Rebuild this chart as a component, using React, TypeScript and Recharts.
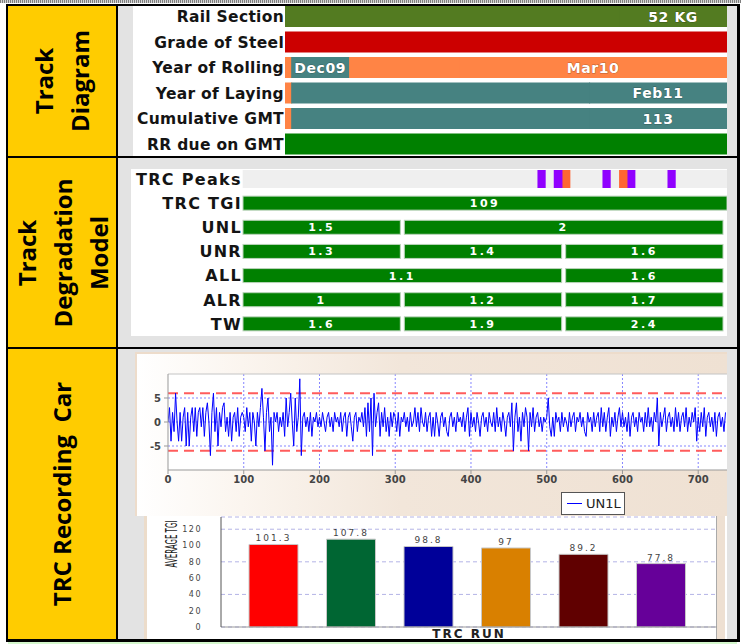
import React from 'react';
import {
  BarChart, Bar, XAxis, YAxis, Cell, LabelList, LineChart, Line,
  CartesianGrid, ReferenceLine, Label,
} from 'recharts';

// Track Diagram rows (lengths along the section, 0-100)
const diagramCategories = ['Rail Section', 'Grade of Steel', 'Year of Rolling', 'Year of Laying', 'Cumulative GMT', 'RR due on GMT'];
const diagramLengths = [[75.6, 24.4], [100], [1.4, 13.1, 24.9, 60.6], [1.4, 67.4, 31.2], [1.4, 67.4, 31.2], [100]];
const diagramLabels = [['', '52 KG'], [''], ['', 'Dec09', '', 'Mar10'], ['', '', 'Feb11'], ['', '', '113'], ['']];

// Track Degradation Model (three blocks, 0-3)
const degradationCategories = ['TRC TGI', 'UNL', 'UNR', 'ALL', 'ALR', 'TW'];
const degradationLengths = [[3], [1, 2], [1, 1, 1], [2, 1], [1, 1, 1], [1, 1, 1]];
const degradationLabels = [['109'], ['1.5', '2'], ['1.3', '1.4', '1.6'], ['1.1', '1.6'], ['1', '1.2', '1.7'], ['1.6', '1.9', '2.4']];
const peakStart = [1.827, 1.928, 1.982, 2.23, 2.333, 2.385, 2.633];
const peakEnd = [1.878, 1.982, 2.031, 2.281, 2.385, 2.434, 2.684];
const peakLevel = [2, 2, 1, 2, 1, 2, 2];

// TRC recording, UN1L, one value every 2 units
const un1l000 = [0, 3, -4, 2, -2, 6, 0, -4, 2, -4, 1, 3, -5, 2, -5, 1, 3, -2, 3, -3, 2, 3, -1, 3, -3, 2, 4, 0, -7, 2, 6, -2, 3, -5, 2, -1, 3, 4, -2, 1, -3, 2, -4, 1, 2, -2, 3, -3, 1, 2];
const un1l100 = [1, -2, 3, -1, 2, -4, 2, 0, -5, 2, -1, 3, 7, 1, -6, 2, 5, -2, 1, -9, 2, 0, 2, -2, 1, -1, 2, -3, 5, -1, 2, 6, 0, -5, 5, -2, 1, 9, -7, 1, 2, -1, 1, -2, 2, -3, 1, 0, 2, -1];
const un1l200 = [1, -1, 2, 0, -2, 1, 2, -1, 1, -2, 2, 0, 1, -1, 2, -2, 1, 2, -3, 1, 2, -1, -4, 1, 2, -2, 1, 0, 2, -1, 3, -3, 4, -2, 5, -7, 6, -1, 2, 4, -3, 2, -1, 3, -2, 1, -3, 2, -1, 2];
const un1l300 = [1, -2, 2, -3, 1, 0, 2, -1, 1, -2, 2, -1, 0, 3, -1, 2, -2, 3, 0, -1, 2, -2, 1, 2, -3, 1, -3, 2, 0, -3, 1, 2, -1, 1, -2, -3, 1, 2, -1, 1, -2, 2, 0, 1, -1, 2, -2, 1, 3, -3];
const un1l400 = [2, -1, 1, -2, 2, 0, -3, 1, 2, -1, 1, -2, 2, 0, -1, 2, -2, 3, -1, 1, -2, 2, 0, -3, 1, 2, -1, 4, -6, 1, 4, -2, 1, -4, 2, -1, 3, 1, -6, 2, -1, 3, -2, 1, 2, -1, 1, -2, 1, 0];
const un1l500 = [1, 5, -1, -3, 1, -3, 2, 0, 1, -2, 2, -1, 1, 0, -2, 2, -1, 1, 2, -2, 1, 0, 2, -1, 1, -2, -3, 2, 0, 1, -2, 2, -1, 1, 2, -2, 3, -1, 2, -2, 1, 3, -3, 1, -1, 2, -2, 1, 3, -1];
const un1l600 = [2, -1, 1, -2, 2, -3, 1, 2, -1, 1, -2, 2, 0, 1, -2, 2, -1, 3, -1, 1, -2, 2, 0, 5, -5, 2, -1, 1, 3, -2, 1, 2, -1, 1, -2, 3, -1, 2, -2, 1, 2, -1, 3, -2, 1, -1, 2, 0, 3, -4];
const un1l700 = [1, -2, 2, -1, 3, -3, 1, 2, -1, 1, -2, 2, -3, 1, 2, -1, 1, -2, 2];
const lineTicks = [0, 100, 200, 300, 400, 500, 600, 700];
const lineGridX = [100, 200, 300, 400, 500, 600, 700];
const lineTicksY = [-5, 0, 5];
const alarmLimit = 6;

// Average TGI per TRC run
const trcRuns = ['Run 1', 'Run 2', 'Run 3', 'Run 4', 'Run 5', 'Run 6'];
const averageTgi = [101.3, 107.8, 98.8, 97, 89.2, 77.8];
const tgiTicks = [0, 20, 40, 60, 80, 100, 120];

// styles
const DIAGRAM_COLORS = [
  ['#537b21', '#537b21'], ['#cc0000'], ['#ff8445', '#468281', '#ff8445', '#ff8445'],
  ['#ff8445', '#468281', '#468281'], ['#ff8445', '#468281', '#468281'], ['#008000'],
];
const PEAK_COLORS: Record<number, string> = { 1: '#ff6633', 2: '#9000ff' };
const RUN_COLORS = ['#ff0000', '#006633', '#000099', '#d98000', '#600000', '#660099'];
const YELLOW = '#ffcc00';
const GRAY = '#e3e3e3';

const diagramData = diagramCategories.map((name, r) => {
  const row: any = { name };
  diagramLengths[r].forEach((len, k) => { row['s' + k] = len; row['l' + k] = diagramLabels[r][k]; });
  return row;
});

const peaksRow: any = { name: 'TRC Peaks', count: 0 };
{
  let pos = 0;
  peakStart.forEach((s, i) => { peaksRow['g' + i] = s - pos; peaksRow['p' + i] = peakEnd[i] - s; pos = peakEnd[i]; });
  peaksRow['g' + peakStart.length] = 3 - pos;
}
const degradationData = [peaksRow, ...degradationCategories.map((name, r) => {
  const row: any = { name, count: degradationLengths[r].length };
  degradationLengths[r].forEach((len, k) => { row['s' + k] = len; row['l' + k] = degradationLabels[r][k]; });
  return row;
})];

const un1lData = [...un1l000, ...un1l100, ...un1l200, ...un1l300, ...un1l400, ...un1l500, ...un1l600, ...un1l700]
  .map((v, i) => ({ km: i * 2, v }));

const tgiData = trcRuns.map((run, i) => ({ run, tgi: averageTgi[i] }));

const box = (left: number, top: number, width: number, height: number, extra: React.CSSProperties = {}): React.CSSProperties =>
  ({ position: 'absolute', left, top, width, height, ...extra });

const DiagramTick = (props: any) => (
  <text x={props.x} y={props.y} dy="0.36em" textAnchor="end" fontFamily="DejaVu Sans" fontWeight="bold"
    fontSize={15.5} letterSpacing={0.3} fill="#141414">{props.payload.value}</text>
);

const DegradationTick = (props: any) => {
  const first = props.payload.value === 'TRC Peaks';
  return (
    <text x={first ? 6 : props.x} y={props.y} dy="0.36em" textAnchor={first ? 'start' : 'end'}
      fontFamily="DejaVu Sans" fontWeight="bold" fontSize={16} letterSpacing={1.3} fill="#141414">
      {props.payload.value}
    </text>
  );
};

const rectOf = (props: any) => props.viewBox ?? props;

// segments of one row butt against each other; overlap by a pixel so no seam shows
const DIAGRAM_PLOT_END = 594;
const DiagramShape = (props: any) => {
  const { x, y, width, height, fill } = props;
  if (!(width > 0)) return null;
  const w = x + width < DIAGRAM_PLOT_END - 1 ? width + 1 : width;
  return <rect x={x} y={y} width={w} height={height} fill={fill} />;
};

const DiagramLabel = (props: any) => {
  const { x, y, width, height } = rectOf(props);
  if (!props.value) return null;
  return (
    <text x={x + width / 2} y={y + height / 2} dy="0.36em" textAnchor="middle" fontFamily="DejaVu Sans"
      fontWeight="bold" fontSize={14} letterSpacing={0.6} fill="#fff" stroke="rgba(0,0,0,0.35)" strokeWidth={0.8}
      paintOrder="stroke">{props.value}</text>
  );
};

const SegmentLabel = (props: any) => {
  const { x, y, width, height } = rectOf(props);
  if (!props.value) return null;
  const row = degradationData[props.index];
  const shift = row && row.count > 1 ? -2 : 0;
  return (
    <text x={x + width / 2 + shift} y={y + height / 2} dy="0.36em" textAnchor="middle" fontFamily="DejaVu Sans"
      fontWeight="bold" fontSize={11} letterSpacing={2.5} fill="#fff">{props.value}</text>
  );
};

const SegmentShape = (props: any) => {
  const { x, y, width, height } = props;
  if (!(width > 0)) return null;
  const row = props.payload ?? props;
  const inset = row.count > 1 ? 4 : 0;
  return <rect x={x} y={y} width={width - inset} height={height} fill="#008000" stroke="#b9d3b9" strokeWidth={1} />;
};

const peakShape = (fill: string) => (props: any) => {
  const { x, y, width, height } = props;
  if (!(width > 0)) return null;
  return <rect x={x - 0.3} y={y - 2} width={width + 0.6} height={height + 4} fill={fill} />;
};

const RunValueLabel = (props: any) => {
  const { x, y, width } = rectOf(props);
  return (
    <text x={x + width / 2} y={y - 3} textAnchor="middle" fontFamily="DejaVu Sans" fontSize={9}
      letterSpacing={2} fill="#444">{props.value}</text>
  );
};

const YellowCell = ({ top, height, lines }: { top: number; height: number; lines: string[] }) => (
  <div style={box(8, top, 108, height, { background: YELLOW })}>
    <div style={{
      position: 'absolute', left: 54 - height / 2, top: height / 2 - 54, width: height, height: 108,
      transform: 'rotate(-90deg)', display: 'flex', flexDirection: 'column', justifyContent: 'center',
      alignItems: 'center', fontFamily: 'Open Sans', fontWeight: 700, fontSize: 24, lineHeight: '36px',
      color: '#000', whiteSpace: 'pre',
    }}>
      {lines.map((t) => <div key={t}>{t}</div>)}
    </div>
  </div>
);

export default function App() {
  const lineTick = { fontSize: 10, fontWeight: 'bold', fill: '#444', fontFamily: 'DejaVu Sans' } as any;
  return (
    <div style={box(0, 0, 741, 644, { background: '#fff', overflow: 'hidden' })}>
      <div style={box(0, 0, 741, 3, { background: 'repeating-linear-gradient(90deg, #808080 0 1px, #d4d4d4 1px 2px)' })} />
      <div style={box(118, 6, 619, 633, { background: GRAY })} />

      <YellowCell top={6} height={150} lines={['Track', 'Diagram']} />
      <YellowCell top={158} height={189} lines={['Track', 'Degradation', 'Model']} />
      <YellowCell top={349} height={290} lines={['TRC Recording  Car']} />

      {/* Track diagram */}
      <div style={box(133, 6, 594, 150, { background: '#fff' })} />
      <div style={box(133, 4, 594, 153)}>
        <BarChart layout="vertical" width={594} height={153} data={diagramData}
          margin={{ top: 0, right: 0, bottom: 0, left: 0 }}>
          <XAxis type="number" domain={[0, 100]} hide />
          <YAxis type="category" dataKey="name" width={152} axisLine={false} tickLine={false}
            tickSize={0} tickMargin={1} tick={<DiagramTick />} interval={0} />
          {[0, 1, 2, 3].map((k) => (
            <Bar key={k} dataKey={'s' + k} stackId="d" barSize={21} isAnimationActive={false} shape={<DiagramShape />}>
              {diagramData.map((_, r) => <Cell key={r} fill={DIAGRAM_COLORS[r][k] || 'none'} />)}
              <LabelList dataKey={'l' + k} content={<DiagramLabel />} />
            </Bar>
          ))}
        </BarChart>
      </div>

      {/* Track degradation model */}
      <div style={box(131, 169, 596, 167, { background: '#fff' })} />
      <div style={box(130, 167, 597, 169)}>
        <BarChart layout="vertical" width={597} height={169} data={degradationData}
          margin={{ top: 0, right: 0, bottom: 0, left: 0 }}>
          <XAxis type="number" domain={[0, 3]} hide />
          <YAxis type="category" dataKey="name" width={113} axisLine={false} tickLine={false}
            tickSize={0} tickMargin={1} tick={<DegradationTick />} interval={0} />
          {peakStart.map((_, i) => [
            <Bar key={'g' + i} dataKey={'g' + i} stackId="m" barSize={14} isAnimationActive={false}
              shape={peakShape('#efefef')} />,
            <Bar key={'p' + i} dataKey={'p' + i} stackId="m" barSize={14} isAnimationActive={false}
              shape={peakShape(PEAK_COLORS[peakLevel[i]])} />,
          ])}
          <Bar dataKey={'g' + peakStart.length} stackId="m" barSize={14} isAnimationActive={false}
            shape={peakShape('#efefef')} />
          {[0, 1, 2].map((k) => (
            <Bar key={'s' + k} dataKey={'s' + k} stackId="m" barSize={14} isAnimationActive={false}
              shape={<SegmentShape />}>
              <LabelList dataKey={'l' + k} content={<SegmentLabel />} />
            </Bar>
          ))}
        </BarChart>
      </div>

      {/* TRC recording car: UN1L trace */}
      <div style={box(135, 352, 592, 164, {
        background: 'linear-gradient(90deg, #ffffff 0%, #fbf5ef 18%, #f2e6da 45%, #efe1d3 100%)',
        boxShadow: 'inset 2px 2px 0 #eddccb',
      })} />
      <div style={box(135, 352, 592, 164)}>
        <LineChart width={592} height={164} data={un1lData} margin={{ top: 22, right: 0, bottom: 26, left: 0 }}>
          <CartesianGrid stroke="#8585ff" strokeDasharray="2 2" fill="#fff" fillOpacity={1}
            verticalValues={lineGridX} horizontalValues={lineTicksY} />
          <XAxis dataKey="km" type="number" domain={[0, 738]} ticks={lineTicks} allowDataOverflow
            height={20} stroke="#999" tickSize={4} tickMargin={2} tick={lineTick} />
          <YAxis type="number" domain={[-10, 10]} ticks={lineTicksY} width={33} stroke="#999"
            tickSize={4} tickMargin={3} tick={lineTick} />
          <ReferenceLine y={10} stroke="#c4c4c4" />
          <ReferenceLine y={alarmLimit} stroke="#ff5c5c" strokeWidth={2} strokeDasharray="10 6" />
          <ReferenceLine y={-alarmLimit} stroke="#ff5c5c" strokeWidth={2} strokeDasharray="10 6" />
          <Line type="linear" dataKey="v" stroke="#0000ff" strokeWidth={1} dot={false} isAnimationActive={false} />
        </LineChart>
      </div>
      <div style={box(561, 492, 62, 21, {
        border: '1px solid #555', background: '#fff', display: 'flex', alignItems: 'center',
        fontFamily: 'DejaVu Sans', fontSize: 13, color: '#222',
      })}>
        <span style={{ display: 'inline-block', width: 15, height: 1, background: '#0000ff', margin: '0 4px 0 5px' }} />
        UN1L
      </div>

      {/* Average TGI per run */}
      <div style={box(144, 516, 583, 124, { background: '#fff', borderLeft: '3px solid #ecdcca', boxSizing: 'border-box' })} />
      <div style={box(716, 516, 9, 124, { background: '#eee0d2', borderLeft: '1px solid #aaa', boxSizing: 'border-box' })} />
      <div style={box(144, 513, 583, 127)}>
        <BarChart width={583} height={127} data={tgiData} margin={{ top: 4, right: 10, bottom: 0, left: 0 }}>
          <CartesianGrid vertical={false} stroke="#b4b4e6" strokeDasharray="4 3" />
          <XAxis dataKey="run" tick={false} tickLine={false} height={13} stroke="#999" padding={{ left: 14, right: 17 }}>
            <Label content={(p: any) => {
              const vb = p.viewBox;
              return (
                <text x={vb.x + vb.width / 2} y={vb.y + 10.5} textAnchor="middle" fontFamily="DejaVu Sans"
                  fontWeight="bold" fontSize={12} letterSpacing={2} fill="#222">TRC RUN</text>
              );
            }} />
          </XAxis>
          <YAxis type="number" domain={[0, 135]} ticks={tgiTicks} width={77} stroke="#555" tickLine={false}
            tickSize={0} tickMargin={19}
            tick={{ fontSize: 8, letterSpacing: 1.5, fill: '#444', fontFamily: 'DejaVu Sans' } as any} />
          <text transform="translate(28 31) rotate(-90) scale(0.67 1.45)" x={0} y={0} dy="0.35em"
            textAnchor="middle" fontFamily="DejaVu Sans" fontSize={10.5} fill="#222">AVERAGE TGI</text>
          <Bar dataKey="tgi" barSize={49} stroke="#c8c8c8" isAnimationActive={false}>
            {tgiData.map((_, i) => <Cell key={i} fill={RUN_COLORS[i]} />)}
            <LabelList dataKey="tgi" content={<RunValueLabel />} />
          </Bar>
        </BarChart>
      </div>

      {/* table borders */}
      <div style={box(6, 4, 734, 2, { background: '#000' })} />
      <div style={box(6, 156, 734, 2, { background: '#000' })} />
      <div style={box(6, 347, 734, 2, { background: '#000' })} />
      <div style={box(6, 639, 734, 3, { background: '#000' })} />
      <div style={box(6, 4, 2, 638, { background: '#000' })} />
      <div style={box(116, 4, 2, 638, { background: '#000' })} />
      <div style={box(737, 4, 3, 638, { background: '#000' })} />
      <div style={box(8, 642, 729, 2, { background: '#d4f7cc' })} />
    </div>
  );
}
